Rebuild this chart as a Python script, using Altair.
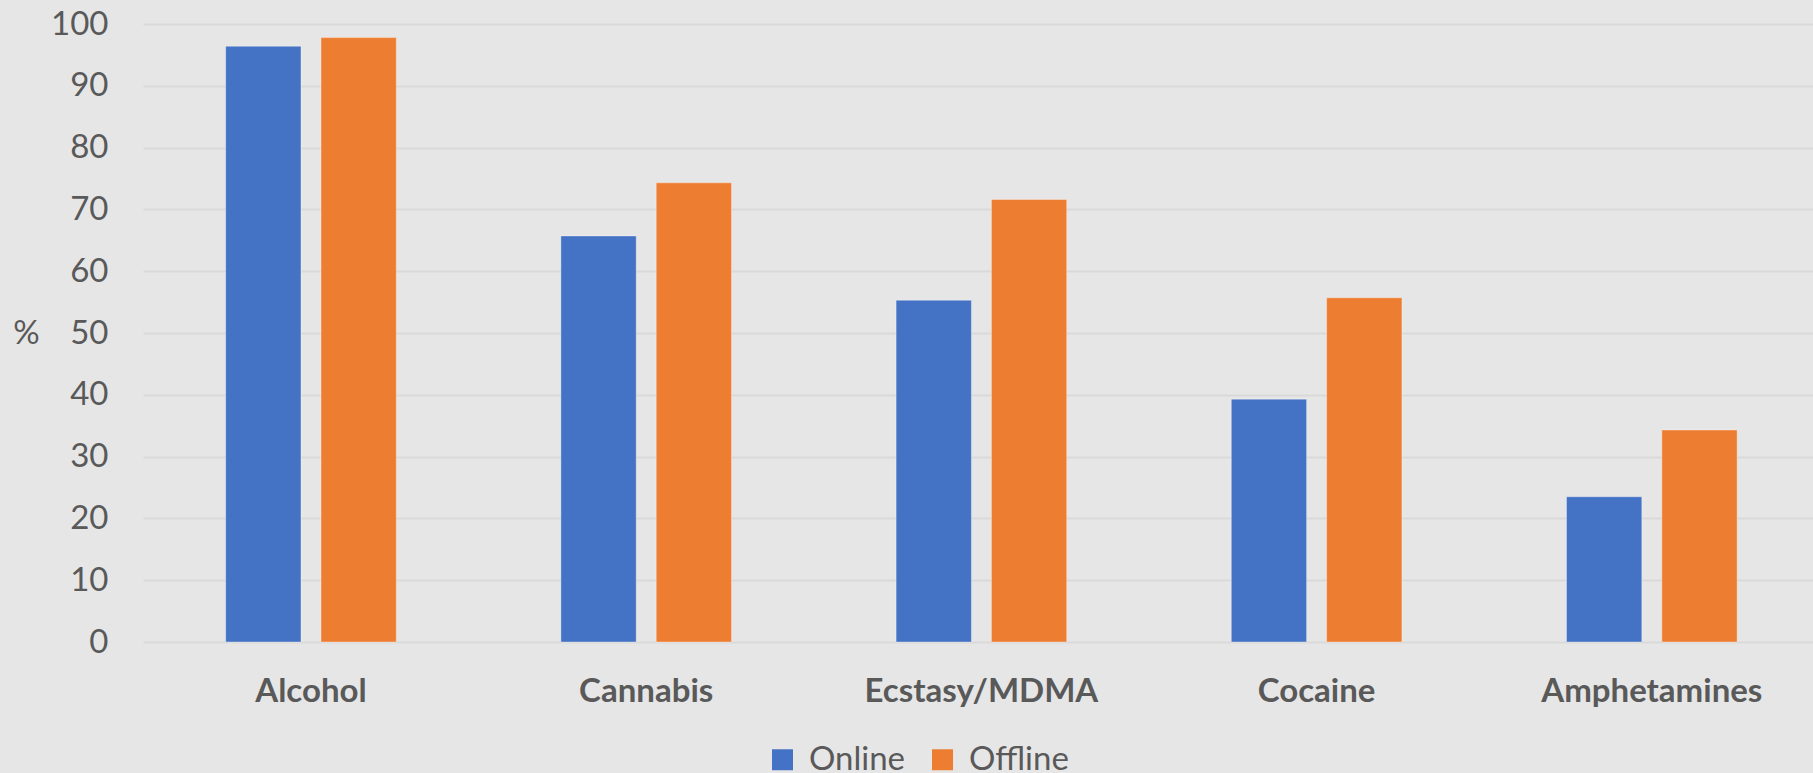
import altair as alt
import pandas as pd

# Share of respondents (%) reporting use, by substance and survey mode
categories = ["Alcohol", "Cannabis", "Ecstasy/MDMA", "Cocaine", "Amphetamines"]
online = [96.4, 65.7, 55.3, 39.3, 23.5]
offline = [97.8, 74.3, 71.6, 55.7, 34.3]
series = ["Online", "Offline"]
colors = ["#4472C4", "#ED7D31"]
y_ticks = list(range(0, 101, 10))

rows = []
for i, cat in enumerate(categories):
    rows.append({"drug": cat, "mode": "Online", "pct": online[i]})
    rows.append({"drug": cat, "mode": "Offline", "pct": offline[i]})
df = pd.DataFrame(rows)

FONT = "Lato"
GREY = "#595959"

bars = (
    alt.Chart(df)
    .mark_bar(stroke="white", strokeOpacity=0.35, strokeWidth=1)
    .encode(
        x=alt.X(
            "drug:N",
            sort=categories,
            title=None,
            scale=alt.Scale(paddingInner=0.491, paddingOuter=0.2365, align=0.5215),
            axis=alt.Axis(
                labelAngle=0,
                labelFont=FONT,
                labelFontSize=33,
                labelFontWeight="bold",
                labelColor=GREY,
                labelPadding=33,
                labelLimit=0,
                ticks=False,
                tickSize=0,
                domain=False,
                grid=False,
            ),
        ),
        xOffset=alt.XOffset(
            "mode:N", sort=series, scale=alt.Scale(paddingInner=0.21, paddingOuter=0)
        ),
        y=alt.Y(
            "pct:Q",
            title="%",
            scale=alt.Scale(domain=[0, 100], nice=False),
            axis=alt.Axis(
                values=y_ticks,
                labelFont=FONT,
                labelFontSize=33,
                labelColor=GREY,
                labelPadding=35,
                ticks=False,
                tickSize=0,
                domain=False,
                gridColor="#D9D9D9",
                gridWidth=2,
                titleAngle=0,
                titleX=-117,
                titleY=309,
                titleAlign="center",
                titleBaseline="middle",
                titleFont=FONT,
                titleFontSize=33,
                titleFontWeight="normal",
                titleColor=GREY,
            ),
        ),
        color=alt.Color(
            "mode:N",
            sort=series,
            scale=alt.Scale(domain=series, range=colors),
            legend=alt.Legend(
                orient="none",
                legendX=623,
                legendY=719,
                direction="horizontal",
                title=None,
                symbolType="square",
                symbolSize=441,
                symbolStrokeWidth=0,
                labelFont=FONT,
                labelFontSize=33,
                labelColor=GREY,
                labelOffset=10,
                columnPadding=20,
                padding=0,
            ),
        ),
    )
)

# Corner of the publisher badge peeking in at the bottom right
badge = (
    alt.Chart(pd.DataFrame({"k": [0]}))
    .mark_circle(color="#2A88C9", opacity=1, size=31416)
    .encode(x=alt.value(1765), y=alt.value(741))
)

chart = (
    alt.layer(bars, badge)
    .properties(
        width=1670,
        height=618,
        padding={"left": 143, "top": 24, "right": 0, "bottom": 131},
        autosize=alt.AutoSizeParams(type="none"),
        background="#E6E6E6",
    )
    .configure_view(stroke="transparent")
)

chart.save("out.html", embed_options={"renderer": "svg", "actions": False})
